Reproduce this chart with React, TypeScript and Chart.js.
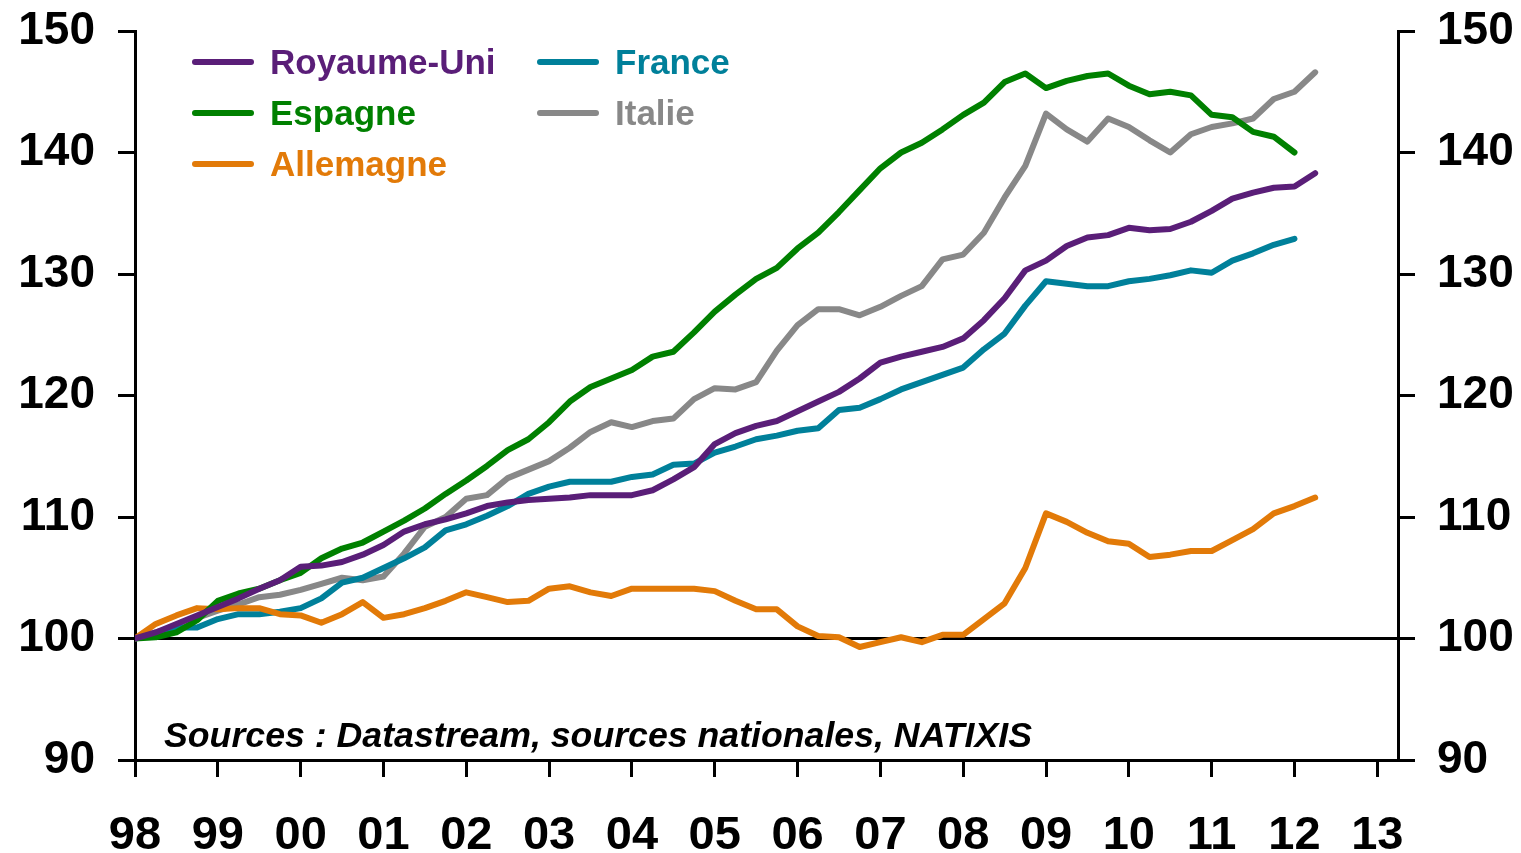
import React, { useEffect, useRef } from 'react';
import { Chart, registerables } from 'chart.js';

Chart.register(...registerables);

// ---- Data ----
const yearLabels = ['98', '99', '00', '01', '02', '03', '04', '05', '06', '07', '08', '09', '10', '11', '12', '13'];
const quartersPerYear = 4;
const xMaxQuarter = 61;
const yTicks = [90, 100, 110, 120, 130, 140, 150];

const seriesNames = ['Royaume-Uni', 'Espagne', 'Allemagne', 'France', 'Italie'];
const seriesColors = ['#5A1E78', '#008000', '#E27A08', '#00809A', '#888888'];

// quarterly index values, 1998Q1 = 100
const royaumeUni = [100, 100.5, 101.2, 101.9, 102.6, 103.3, 104.1, 104.8, 105.9, 106.0, 106.3, 106.9, 107.7, 108.8, 109.4, 109.8, 110.3, 110.9, 111.2, 111.4, 111.5, 111.6, 111.8, 111.8, 111.8, 112.2, 113.1, 114.1, 116.0, 116.9, 117.5, 117.9, 118.7, 119.5, 120.3, 121.4, 122.7, 123.2, 123.6, 124.0, 124.7, 126.2, 128.0, 130.3, 131.1, 132.3, 133.0, 133.2, 133.8, 133.6, 133.7, 134.3, 135.2, 136.2, 136.7, 137.1, 137.2, 138.3];
const espagne = [100, 100.1, 100.5, 101.5, 103.1, 103.7, 104.1, 104.8, 105.4, 106.6, 107.4, 107.9, 108.8, 109.7, 110.7, 111.9, 113.0, 114.2, 115.5, 116.4, 117.8, 119.5, 120.7, 121.4, 122.1, 123.2, 123.6, 125.2, 126.9, 128.3, 129.6, 130.5, 132.1, 133.4, 135.1, 136.9, 138.7, 140.0, 140.8, 141.9, 143.1, 144.1, 145.8, 146.5, 145.3, 145.9, 146.3, 146.5, 145.5, 144.8, 145.0, 144.7, 143.1, 142.9, 141.7, 141.3, 140.0];
const allemagne = [100, 101.2, 101.9, 102.5, 102.4, 102.5, 102.5, 102.0, 101.9, 101.3, 102.0, 103.0, 101.7, 102.0, 102.5, 103.1, 103.8, 103.4, 103.0, 103.1, 104.1, 104.3, 103.8, 103.5, 104.1, 104.1, 104.1, 104.1, 103.9, 103.1, 102.4, 102.4, 101.0, 100.2, 100.1, 99.3, 99.7, 100.1, 99.7, 100.3, 100.3, 101.6, 102.9, 105.8, 110.3, 109.6, 108.7, 108.0, 107.8, 106.7, 106.9, 107.2, 107.2, 108.1, 109.0, 110.3, 110.9, 111.6];
const france = [100, 100.3, 100.9, 100.9, 101.6, 102.0, 102.0, 102.2, 102.5, 103.3, 104.6, 105.0, 105.8, 106.6, 107.5, 108.9, 109.4, 110.1, 110.9, 111.9, 112.5, 112.9, 112.9, 112.9, 113.3, 113.5, 114.3, 114.4, 115.3, 115.8, 116.4, 116.7, 117.1, 117.3, 118.8, 119.0, 119.7, 120.5, 121.1, 121.7, 122.3, 123.8, 125.1, 127.4, 129.4, 129.2, 129.0, 129.0, 129.4, 129.6, 129.9, 130.3, 130.1, 131.1, 131.7, 132.4, 132.9];
const italie = [100, 100.5, 101.0, 101.7, 102.3, 102.8, 103.4, 103.6, 104.0, 104.5, 105.0, 104.8, 105.1, 107.0, 109.2, 110.0, 111.5, 111.8, 113.2, 113.9, 114.6, 115.7, 117.0, 117.8, 117.4, 117.9, 118.1, 119.7, 120.6, 120.5, 121.1, 123.7, 125.8, 127.1, 127.1, 126.6, 127.3, 128.2, 129.0, 131.2, 131.6, 133.4, 136.3, 138.9, 143.2, 141.9, 140.9, 142.8, 142.1, 141.0, 140.0, 141.5, 142.1, 142.4, 142.8, 144.4, 145.0, 146.6];

const seriesValues = [royaumeUni, espagne, allemagne, france, italie];
const sourceText = 'Sources : Datastream, sources nationales, NATIXIS';

const FONT = '"Liberation Sans", Arial, Helvetica, sans-serif';

const legendPlugin = {
  id: 'customLegend',
  afterDraw(chart: any) {
    const { ctx, chartArea } = chart;
    const colOffsets = [60, 405];
    const rowOffsets = [31, 82, 133];
    const slots = [[0, 0], [0, 1], [0, 2], [1, 0], [1, 1]];
    ctx.save();
    ctx.font = `bold 35px ${FONT}`;
    ctx.textBaseline = 'middle';
    ctx.textAlign = 'left';
    chart.data.datasets.forEach((ds: any, i: number) => {
      const [c, r] = slots[i];
      const x = chartArea.left + colOffsets[c];
      const y = chartArea.top + rowOffsets[r];
      ctx.strokeStyle = ds.borderColor;
      ctx.lineWidth = 6;
      ctx.lineCap = 'round';
      ctx.beginPath();
      ctx.moveTo(x, y);
      ctx.lineTo(x + 56, y);
      ctx.stroke();
      ctx.fillStyle = ds.borderColor;
      ctx.fillText(ds.label, x + 75, y + 2);
    });
    ctx.restore();
  },
};

const sourcePlugin = {
  id: 'sourceNote',
  afterDraw(chart: any) {
    const { ctx, chartArea } = chart;
    ctx.save();
    ctx.font = `italic bold 35px ${FONT}`;
    ctx.fillStyle = '#000';
    ctx.textBaseline = 'alphabetic';
    const w = ctx.measureText(sourceText).width;
    const target = 868;
    const sx = target / w;
    ctx.translate(chartArea.left + 29, chartArea.bottom - 13);
    ctx.scale(sx, 1);
    ctx.fillText(sourceText, 0, 0);
    ctx.restore();
  },
};

const noVerticalPadding = (scale: any, width: number) => {
  scale.width = width;
  scale.paddingTop = 0;
  scale.paddingBottom = 0;
};

export default function App() {
  const canvasRef = useRef<HTMLCanvasElement | null>(null);

  useEffect(() => {
    document.body.style.margin = '0';
    const canvas = canvasRef.current;
    if (!canvas) return;

    const datasets = seriesNames.map((name, i) => ({
      label: name,
      data: seriesValues[i].map((v, q) => ({ x: q, y: v })),
      borderColor: seriesColors[i],
      backgroundColor: seriesColors[i],
      borderWidth: 6,
      pointRadius: 0,
      tension: 0,
      fill: false,
      borderJoinStyle: 'round' as const,
      borderCapStyle: 'round' as const,
      yAxisID: 'y',
    }));

    const chart = new Chart(canvas, {
      type: 'line',
      data: { datasets },
      options: {
        animation: false,
        responsive: true,
        maintainAspectRatio: false,
        layout: { padding: { top: 31, right: 0, bottom: 0, left: 0 } },
        plugins: {
          legend: { display: false },
          tooltip: { enabled: false },
          title: { display: false },
        },
        scales: {
          x: {
            type: 'linear',
            min: 0,
            max: xMaxQuarter,
            afterBuildTicks: (scale: any) => {
              scale.ticks = yearLabels.map((_, i) => ({ value: i * quartersPerYear }));
            },
            afterFit: (scale: any) => {
              scale.height = 93;
            },
            ticks: {
              autoSkip: false,
              maxRotation: 0,
              padding: 31,
              color: '#000',
              font: { family: FONT, size: 47, weight: 'bold' },
              callback: (v: any) => yearLabels[Math.round(Number(v) / quartersPerYear)] ?? '',
            },
            grid: {
              drawOnChartArea: false,
              drawTicks: true,
              tickLength: 17,
              tickColor: '#000',
              tickWidth: 3,
              lineWidth: 3,
            },
            border: { display: true, color: '#000', width: 3 },
          },
          y: {
            type: 'linear',
            position: 'left',
            min: yTicks[0],
            max: yTicks[yTicks.length - 1],
            afterFit: (scale: any) => noVerticalPadding(scale, 135),
            ticks: {
              stepSize: 10,
              padding: 23,
              color: '#000',
              font: { family: FONT, size: 46, weight: 'bold' },
            },
            grid: {
              drawOnChartArea: true,
              drawTicks: true,
              tickLength: 17,
              tickColor: '#000',
              tickWidth: 3,
              lineWidth: 3,
              color: (c: any) => (c.tick && c.tick.value === 100 ? '#000' : 'rgba(0,0,0,0)'),
            },
            border: { display: true, color: '#000', width: 3 },
          },
          y2: {
            type: 'linear',
            position: 'right',
            min: yTicks[0],
            max: yTicks[yTicks.length - 1],
            afterFit: (scale: any) => noVerticalPadding(scale, 123),
            ticks: {
              stepSize: 10,
              padding: 22,
              color: '#000',
              font: { family: FONT, size: 46, weight: 'bold' },
            },
            grid: {
              drawOnChartArea: false,
              drawTicks: true,
              tickLength: 17,
              tickColor: '#000',
              tickWidth: 3,
              lineWidth: 3,
            },
            border: { display: true, color: '#000', width: 3 },
          },
        },
      },
      plugins: [legendPlugin, sourcePlugin],
    });

    return () => {
      chart.destroy();
    };
  }, []);

  return (
    <div style={{ position: 'absolute', left: 0, top: 0, width: 1521, height: 853, background: '#fff' }}>
      <canvas ref={canvasRef} />
    </div>
  );
}
